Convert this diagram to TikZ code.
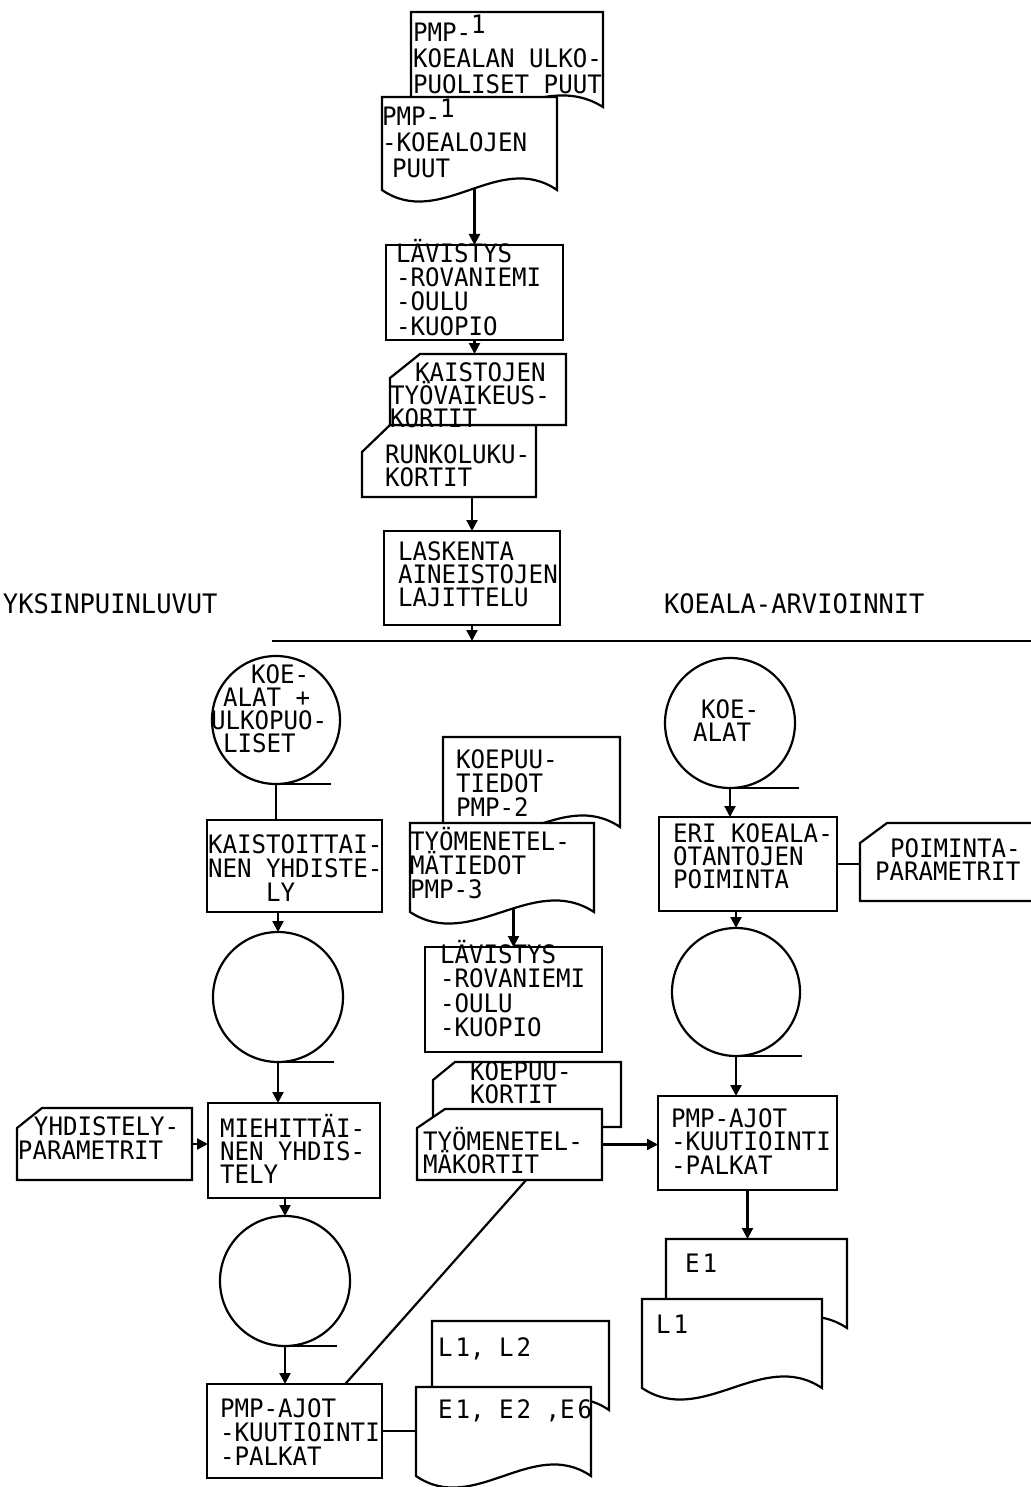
\documentclass[tikz,border=0pt]{standalone}
\usepackage{fontspec}
\setmonofont[FakeStretch=0.95]{DejaVu Sans Mono}
\usetikzlibrary{arrows.meta,calc}
\newcommand\Reg[5]{\node[region, minimum width={(#4-#2)*0.5pt}, minimum height={(#5-#3)*0.5pt}] (#1) at (#2,#3) {};}
\newcommand\Bx[5]{\node[box, minimum width={(#4-#2)*0.5pt}, minimum height={(#5-#3)*0.5pt}] (#1) at (#2,#3) {};}
\newcommand\Doc[5]{%
  \filldraw[fill=white] (#2,#5) -- (#2,#3) -- (#4,#3) -- (#4,#5) .. controls ({#2+2*(#4-#2)/3},{#5-40}) and ({#2+(#4-#2)/3},{#5+40}) .. (#2,#5) -- cycle;
  \Reg{#1}{#2}{#3}{#4}{#5}}
\newcommand\Card[7]{%
  \filldraw[fill=white] (#2,{#3+#7}) -- ({#2+#6},#3) -- (#4,#3) -- (#4,#5) -- (#2,#5) -- cycle;
  \Reg{#1}{#2}{#3}{#4}{#5}}
\newcommand\Tx[4]{\node[txt] (#1) at (#2,{#3-26}) {\rule{0pt}{13pt}#4};}
\newcommand\Lb[4]{\node[lbl] (#1) at (#2,{#3-26}) {\rule{0pt}{13pt}#4};}
\begin{document}
\begin{tikzpicture}[x=0.5pt,y=-0.5pt, line width=1.1pt,
  arr/.style={-{Triangle[length=5.5pt,width=5.5pt]}},
  txt/.style={font=\ttfamily\fontsize{12.7}{12}\selectfont, align=left, inner sep=0pt, outer sep=0pt, anchor=north west},
  lbl/.style={txt, font=\ttfamily\fontsize{13.4}{12}\selectfont},
  box/.style={draw, fill=white, inner sep=0pt, outer sep=0pt, anchor=north west},
  region/.style={inner sep=0pt, outer sep=0pt, anchor=north west},
  tape/.style={draw, circle, inner sep=0pt, outer sep=0pt}]
\useasboundingbox (0,0) rectangle (1031,1487);

% ---------- top column ----------
\Doc{doc1}{411}{12}{603}{107}
\Doc{doc2}{382}{97}{557}{190}
\Bx{lav1}{386}{245}{563}{340}
\Card{card2}{362}{425}{536}{497}{28}{27}
\Card{card1}{390}{354}{566}{425}{30}{24}
\Bx{lask}{384}{531}{560}{625}
\coordinate (hlL) at (272,641);
\coordinate (hlR) at (1031,641);
\draw (hlL) -- (hlR);

\draw[arr, shorten <=-1pt] (lav1.north |- doc2.south) -- (lav1.north);
\draw[arr] (lav1.south) -- (lav1.south |- card1.north);
\draw[arr] (lask.north |- card2.south) -- (lask.north);
\draw[arr] (lask.south) -- (lask.south |- hlL);

% ---------- left column ----------
\node[tape, minimum size=64pt] (c1) at (276,720) {};
\draw (c1.south) -- ++(55,0);
\Bx{kais}{207}{820}{382}{912}
\node[tape, minimum size=65pt] (c2) at (278,997) {};
\draw (c2.south) -- ++(56,0);
\Bx{mieh}{208}{1103}{380}{1198}
\Card{yparam}{17}{1108}{192}{1180}{25}{20}
\node[tape, minimum size=65pt] (c3) at (285,1281) {};
\draw (c3.south) -- ++(52,0);
\Bx{pmpL}{207}{1384}{382}{1478}
\Doc{l12}{432}{1321}{609}{1410}
\Doc{e126}{416}{1387}{591}{1476}

\draw (c1.south) -- (c1.south |- kais.north);
\draw[arr] (c2.north |- kais.south) -- (c2.north);
\draw[arr] (c2.south) -- (c2.south |- mieh.north);
\draw[arr] (yparam.east) -- (yparam.east -| mieh.west);
\draw[arr] (c3.north |- mieh.south) -- (c3.north);
\draw[arr] (c3.south) -- (c3.south |- pmpL.north);
\draw (pmpL.east) -- (pmpL.east -| e126.west);

% ---------- middle column ----------
\Doc{kpt}{443}{737}{620}{827}
\Doc{tyo}{410}{823}{594}{912}
\Bx{lav2}{425}{947}{602}{1052}
\Card{kpk}{433}{1062}{621}{1127}{22}{18}
\Card{tmk}{417}{1109}{602}{1180}{28}{19}

\draw[arr, shorten <=-2pt] (lav2.north |- tyo.south) -- (lav2.north);
\draw ($(pmpL.north west)!0.79!(pmpL.north east)$) -- ($(tmk.south west)!0.59!(tmk.south east)$);

% ---------- right column ----------
\node[tape, minimum size=65pt] (cR1) at (730,723) {};
\draw (cR1.south) -- ++(69,0);
\Bx{eri}{659}{817}{837}{911}
\filldraw[fill=white] (1031,901) -- (860,901) -- (860,843) -- (887,823) -- (1031,823);
\Reg{poim}{860}{823}{1031}{901}
\node[tape, minimum size=64pt] (cR2) at (736,992) {};
\draw (cR2.south) -- ++(66,0);
\Bx{pmpR}{658}{1096}{837}{1190}
\Doc{e1}{666}{1239}{847}{1328}
\Doc{l1}{642}{1299}{822}{1388}

\draw[arr] (cR1.south) -- (cR1.south |- eri.north);
\draw (eri.east) -- (eri.east -| poim.west);
\draw[arr] (cR2.north |- eri.south) -- (cR2.north);
\draw[arr] (cR2.south) -- (cR2.south |- pmpR.north);
\draw[arr] (tmk.east) -- (tmk.east -| pmpR.west);
\draw[arr] (pmpR.south) -- (pmpR.south |- e1.north);

% ---------- texts ----------
\Tx{t-doc1}{413}{41}{PMP-\raisebox{4pt}{1}\\[1pt]KOEALAN ULKO-\\[1pt]PUOLISET PUUT}
\Tx{t-doc2}{382}{125}{PMP-\raisebox{4pt}{1}\\[1pt]-KOEALOJEN\\[1pt]\hspace{5pt}PUUT}
\Tx{t-lav1}{396}{263}{LÄVISTYS\\-ROVANIEMI\\-OULU\\-KUOPIO}
\Tx{t-card1}{390}{381}{\hspace{12.5pt}KAISTOJEN\\[-0.5pt]TYÖVAIKEUS-\\[-0.5pt]KORTIT}
\Tx{t-card2}{385}{463}{RUNKOLUKU-\\[-0.5pt]KORTIT}
\Tx{t-lask}{398}{560}{LASKENTA\\[-0.5pt]AINEISTOJEN\\[-0.5pt]LAJITTELU}
\Lb{t-yks}{3}{613}{YKSINPUINLUVUT}
\Lb{t-koe}{664}{613}{KOEALA-ARVIOINNIT}

\Tx{t-c1}{211}{683}{\hspace{20pt}KOE-\\[-0.4pt]\hspace{6pt}ALAT +\\[-0.4pt]ULKOPUO-\\[-0.4pt]\hspace{6pt}LISET}
\Tx{t-kais}{208}{853}{KAISTOITTAI-\\NEN YHDISTE-\\\hspace{29pt}LY}
\Tx{t-mieh}{220}{1137}{MIEHITTÄI-\\[-0.5pt]NEN YHDIS-\\[-0.5pt]TELY}
\Tx{t-yp}{18}{1135}{\hspace{8pt}YHDISTELY-\\PARAMETRIT}
\Tx{t-pmpL}{220}{1417}{PMP-AJOT\\-KUUTIOINTI\\-PALKAT}
\Tx{t-l12}{438}{1356}{L\kern1.5pt1, L\kern1.5pt2}
\Tx{t-e126}{438}{1418}{E\kern1.5pt1, E\kern1.5pt2 ,E\kern1.5pt6}

\Tx{t-kpt}{456}{768}{KOEPUU-\\TIEDOT\\PMP-2}
\Tx{t-tyo}{410}{850}{TYÖMENETEL-\\MÄTIEDOT\\PMP-3}
\Tx{t-lav2}{440}{963}{LÄVISTYS\\[0.3pt]-ROVANIEMI\\[0.3pt]-OULU\\[0.3pt]-KUOPIO}
\Tx{t-kpk}{470}{1080}{KOEPUU-\\[-0.5pt]KORTIT}
\Tx{t-tmk}{423}{1150}{TYÖMENETEL-\\[-0.5pt]MÄKORTIT}

\Tx{t-cR1}{693}{718}{\hspace{4pt}KOE-\\[-0.5pt]ALAT}
\Tx{t-eri}{673}{842}{ERI KOEALA-\\[-0.5pt]OTANTOJEN\\[-0.5pt]POIMINTA}
\Tx{t-poim}{875}{857}{\hspace{7.5pt}POIMINTA-\\[-0.5pt]PARAMETRIT}
\Tx{t-pmpR}{671}{1127}{PMP-AJOT\\[-0.5pt]-KUUTIOINTI\\-PALKAT}
\Tx{t-e1}{685}{1272}{E\kern1.5pt1}
\Tx{t-l1}{656}{1333}{L\kern1.5pt1}
\end{tikzpicture}
\end{document}
